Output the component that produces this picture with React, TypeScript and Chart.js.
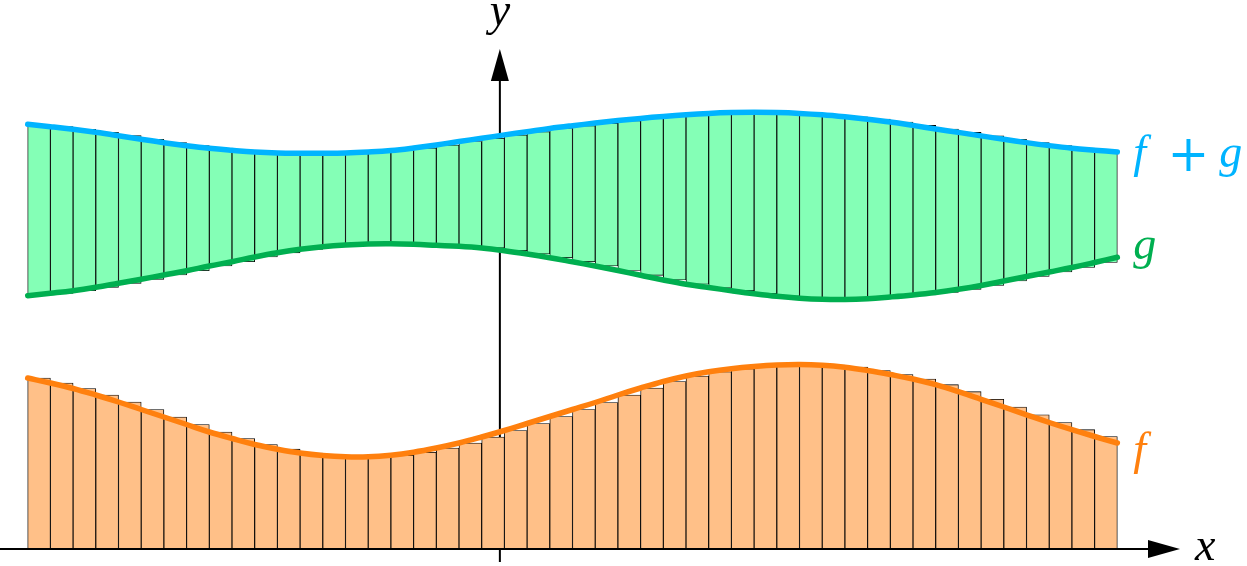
import React, { useEffect, useRef } from "react";
import { Chart, registerables } from "chart.js";

Chart.register(...registerables);

// Left end points of the Riemann strips (last value = right end of the last strip)
const xLeft = [
  -2.6, -2.475, -2.35, -2.225, -2.1, -1.975, -1.85, -1.725, -1.6, -1.475,
  -1.35, -1.225, -1.1, -0.975, -0.85, -0.725, -0.6, -0.475, -0.35, -0.225,
  -0.1, 0.025, 0.15, 0.275, 0.4, 0.525, 0.65, 0.775, 0.9, 1.025,
  1.15, 1.275, 1.4, 1.525, 1.65, 1.775, 1.9, 2.025, 2.15, 2.275,
  2.4, 2.525, 2.65, 2.775, 2.9, 3.025, 3.15, 3.275, 3.4,
];

// f (orange)
const fValues = [
  1.71, 1.66, 1.605, 1.54, 1.47, 1.395, 1.32, 1.245, 1.17, 1.105,
  1.045, 0.998, 0.96, 0.935, 0.922, 0.922, 0.938, 0.968, 1.01, 1.06,
  1.12, 1.185, 1.255, 1.325, 1.395, 1.465, 1.54, 1.61, 1.675, 1.73,
  1.772, 1.803, 1.825, 1.84, 1.845, 1.838, 1.818, 1.785, 1.745, 1.7,
  1.643, 1.573, 1.497, 1.42, 1.342, 1.265, 1.193, 1.125, 1.06,
];

// g (green)
const gValues = [
  2.533, 2.557, 2.583, 2.617, 2.657, 2.697, 2.74, 2.783, 2.83, 2.873,
  2.92, 2.962, 2.997, 3.023, 3.04, 3.05, 3.052, 3.047, 3.037, 3.027,
  3.01, 2.983, 2.95, 2.913, 2.872, 2.83, 2.785, 2.737, 2.69, 2.648,
  2.615, 2.583, 2.553, 2.527, 2.508, 2.497, 2.495, 2.503, 2.52, 2.54,
  2.565, 2.597, 2.635, 2.68, 2.725, 2.77, 2.815, 2.865, 2.917,
];

// f + g (blue)
const fgValues = [
  4.247, 4.223, 4.197, 4.167, 4.133, 4.097, 4.063, 4.033, 4.007, 3.987,
  3.97, 3.96, 3.957, 3.957, 3.96, 3.97, 3.985, 4.01, 4.04, 4.075,
  4.107, 4.141, 4.173, 4.205, 4.233, 4.259, 4.284, 4.306, 4.326, 4.343,
  4.356, 4.364, 4.367, 4.364, 4.356, 4.342, 4.322, 4.298, 4.27, 4.236,
  4.2, 4.166, 4.131, 4.097, 4.064, 4.034, 4.008, 3.988, 3.97,
];

const curveLabels = ["f + g", "g", "f"];
const axisLabels = ["x", "y"];

const X_MIN = -2.7525;
const X_MAX = 4.114;
const Y_MIN = -0.17;
const Y_MAX = 5.49;
const X_ARROW_END = 3.745;
const Y_ARROW_END = 5.0;
const Y_AXIS_BOTTOM = -0.13;

const ORANGE = "#FF800E";
const GREEN = "#00AF50";
const BLUE = "#00B4FF";
const LABEL_FONT = '"Liberation Serif", "DejaVu Serif", serif';
const PLUS_FONT = '"DejaVu Serif", "Liberation Serif", serif';

const axesPlugin = {
  id: "mathAxes",
  beforeDatasetsDraw(chart: any) {
    const { ctx, scales } = chart;
    const xs = scales.x;
    const ys = scales.y;
    const x0 = xs.getPixelForValue(0);
    const yTip = ys.getPixelForValue(Y_ARROW_END);
    const yBottom = ys.getPixelForValue(Y_AXIS_BOTTOM);
    ctx.save();
    ctx.strokeStyle = "#000";
    ctx.fillStyle = "#000";
    ctx.lineWidth = 2;
    ctx.beginPath();
    ctx.moveTo(x0, yBottom);
    ctx.lineTo(x0, yTip + 28);
    ctx.stroke();
    ctx.beginPath();
    ctx.moveTo(x0, yTip);
    ctx.lineTo(x0 - 9, yTip + 32);
    ctx.lineTo(x0 + 9, yTip + 32);
    ctx.closePath();
    ctx.fill();
    ctx.restore();
  },
  afterDatasetsDraw(chart: any) {
    const { ctx, scales } = chart;
    const xs = scales.x;
    const ys = scales.y;
    const x0 = xs.getPixelForValue(0);
    const y0 = ys.getPixelForValue(0);
    const xTip = xs.getPixelForValue(X_ARROW_END);
    const yTip = ys.getPixelForValue(Y_ARROW_END);
    ctx.save();
    ctx.strokeStyle = "#000";
    ctx.fillStyle = "#000";
    ctx.lineWidth = 2;
    ctx.beginPath();
    ctx.moveTo(xs.left, y0);
    ctx.lineTo(xTip - 28, y0);
    ctx.stroke();
    ctx.beginPath();
    ctx.moveTo(xTip, y0);
    ctx.lineTo(xTip - 32, y0 - 9);
    ctx.lineTo(xTip - 32, y0 + 9);
    ctx.closePath();
    ctx.fill();

    // axis labels
    ctx.textBaseline = "alphabetic";
    ctx.font = `italic 46px ${LABEL_FONT}`;
    ctx.fillStyle = "#000";
    ctx.textAlign = "left";
    ctx.fillText(axisLabels[0], xTip + 15, y0 + 11);
    ctx.textAlign = "center";
    ctx.fillText(axisLabels[1], x0, yTip - 24);

    // curve labels
    const last = xLeft.length - 1;
    const lx = xs.getPixelForValue(xLeft[last]) + 16;
    ctx.textAlign = "left";

    // f + g
    const yFG = ys.getPixelForValue(fgValues[last]);
    const parts = curveLabels[0].split(" ");
    ctx.fillStyle = BLUE;
    ctx.font = `italic 46px ${LABEL_FONT}`;
    ctx.fillText(parts[0], lx, yFG + 15);
    ctx.font = `50px ${PLUS_FONT}`;
    ctx.textAlign = "center";
    ctx.fillText(parts[1], lx + 55, yFG + 19);
    ctx.textAlign = "left";
    ctx.font = `italic 46px ${LABEL_FONT}`;
    ctx.fillText(parts[2], lx + 86, yFG + 15);

    // g
    const yG = ys.getPixelForValue(gValues[last]);
    ctx.fillStyle = GREEN;
    ctx.fillText(curveLabels[1], lx, yG + 2);

    // f
    const yF = ys.getPixelForValue(fValues[last]);
    ctx.fillStyle = ORANGE;
    ctx.fillText(curveLabels[2], lx, yF + 21);
    ctx.restore();
  },
};

export default function App() {
  const canvasRef = useRef<HTMLCanvasElement | null>(null);

  useEffect(() => {
    const canvas = canvasRef.current;
    if (!canvas) return;
    const half = (xLeft[1] - xLeft[0]) / 2;
    const strips = xLeft.slice(0, xLeft.length - 1);

    const lineStyle = {
      type: "line",
      borderWidth: 5.5,
      pointRadius: 0,
      tension: 0.4,
      borderCapStyle: "round",
      borderJoinStyle: "round",
      fill: false,
      order: 0,
    };
    const barStyle = {
      type: "bar",
      borderColor: "#000",
      borderWidth: 0.9,
      borderSkipped: false,
      grouped: false,
      barPercentage: 1,
      categoryPercentage: 1,
      order: 2,
    };

    const chart = new Chart(canvas, {
      type: "bar",
      data: {
        datasets: [
          {
            ...lineStyle,
            label: "f + g",
            data: xLeft.map((x, i) => ({ x, y: fgValues[i] })),
            borderColor: BLUE,
          } as any,
          {
            ...lineStyle,
            label: "g",
            data: xLeft.map((x, i) => ({ x, y: gValues[i] })),
            borderColor: GREEN,
          } as any,
          {
            ...lineStyle,
            label: "f",
            data: xLeft.map((x, i) => ({ x, y: fValues[i] })),
            borderColor: ORANGE,
          } as any,
          {
            ...barStyle,
            label: "g..f+g strips",
            data: strips.map((x, i) => ({ x: x + half, y: [gValues[i], fgValues[i]] })),
            backgroundColor: "#84FFB6",
          } as any,
          {
            ...barStyle,
            label: "f strips",
            data: strips.map((x, i) => ({ x: x + half, y: fValues[i] })),
            backgroundColor: "#FFC088",
          } as any,
        ],
      },
      options: {
        responsive: false,
        animation: false,
        devicePixelRatio: 1,
        layout: { padding: 0 },
        plugins: {
          legend: { display: false },
          tooltip: { enabled: false },
        },
        scales: {
          x: {
            type: "linear",
            display: false,
            offset: false,
            min: X_MIN,
            max: X_MAX,
            ticks: { stepSize: 1 },
            grid: { display: false },
          },
          y: {
            type: "linear",
            display: false,
            min: Y_MIN,
            max: Y_MAX,
            ticks: { stepSize: 1 },
            grid: { display: false },
          },
        },
      } as any,
      plugins: [axesPlugin],
    });

    return () => {
      chart.destroy();
    };
  }, []);

  return (
    <div
      style={{
        position: "absolute",
        left: 0,
        top: 0,
        width: 1247,
        height: 566,
        background: "#fff",
      }}
    >
      <canvas ref={canvasRef} width={1247} height={566} style={{ display: "block" }} />
    </div>
  );
}
